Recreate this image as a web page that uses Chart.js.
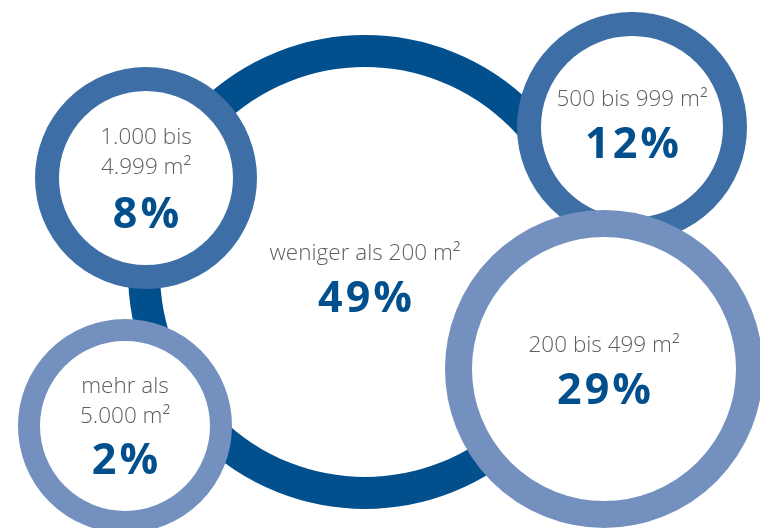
<!DOCTYPE html>
<html>
<head>
<meta charset="utf-8">
<script src="https://cdn.jsdelivr.net/npm/chart.js@4/dist/chart.umd.min.js"></script>
<style>
    html, body { margin: 0; padding: 0; background: #fff; }
    #wrap { width: 760px; height: 528px; }
</style>
</head>
<body>
<div id="wrap"><canvas id="myChart"></canvas></div>
<script>
// Flächenklassen und Anteile
const categories = [
    ['weniger als 200 m²'],
    ['1.000 bis', '4.999 m²'],
    ['500 bis 999 m²'],
    ['200 bis 499 m²'],
    ['mehr als', '5.000 m²']
];
const shares = [49, 8, 12, 29, 2];

// Lage der Kreise (Pixel im 760x528 Bild), Außenradius und Ringstärke
const circleX = [365, 146, 632, 604, 125];
const circleY = [272, 178, 127, 369, 426];
const outerR = [237, 111, 115, 159, 107];
const ringW = [32, 24, 24, 27, 22];
const ringColors = ['#024f8e', '#3d6fa6', '#3d6fa6', '#7490bf', '#7490bf'];
// Textversatz zur Kreismitte: erste Zeile und Prozentzahl
const labelDy = [-18, -40, -27, -23, -39];
const pctDy = [28, 38, 19, 23, 36];

const points = [];
for (let i = 0; i < shares.length; i++) {
    points.push({ x: circleX[i], y: circleY[i], r: outerR[i] - ringW[i] / 2 });
}

const labelPlugin = {
    id: 'ringLabels',
    afterDatasetsDraw(chart) {
        const ctx = chart.ctx;
        const meta = chart.getDatasetMeta(0);
        ctx.save();
        ctx.textAlign = 'center';
        ctx.textBaseline = 'middle';
        meta.data.forEach((pt, i) => {
            const lines = categories[i];
            ctx.fillStyle = '#5e5e5e';
            ctx.font = '300 22.5px "Open Sans"';
            ctx.letterSpacing = '0px';
            lines.forEach((t, j) => ctx.fillText(t, pt.x, pt.y + labelDy[i] + j * 30));
            ctx.fillStyle = '#024f8e';
            ctx.font = 'bold 43px "Open Sans"';
            ctx.letterSpacing = '3px';
            ctx.fillText(shares[i] + '%', pt.x + 1.5, pt.y + pctDy[i]);
        });
        ctx.restore();
    }
};

const config = {
    type: 'bubble',
    data: {
        datasets: [{
            data: points,
            backgroundColor: '#ffffff',
            borderColor: ringColors,
            borderWidth: ringW,
            hoverBorderWidth: ringW,
            clip: false
        }]
    },
    options: {
        responsive: true,
        maintainAspectRatio: false,
        animation: false,
        events: [],
        layout: { padding: 0, autoPadding: false },
        scales: {
            x: { display: false, min: 0, max: 760 },
            y: { display: false, min: 0, max: 528, reverse: true }
        },
        plugins: {
            legend: { display: false },
            tooltip: { enabled: false }
        }
    },
    plugins: [labelPlugin]
};

const myChart = new Chart(document.getElementById('myChart'), config);
</script>
</body>
</html>
